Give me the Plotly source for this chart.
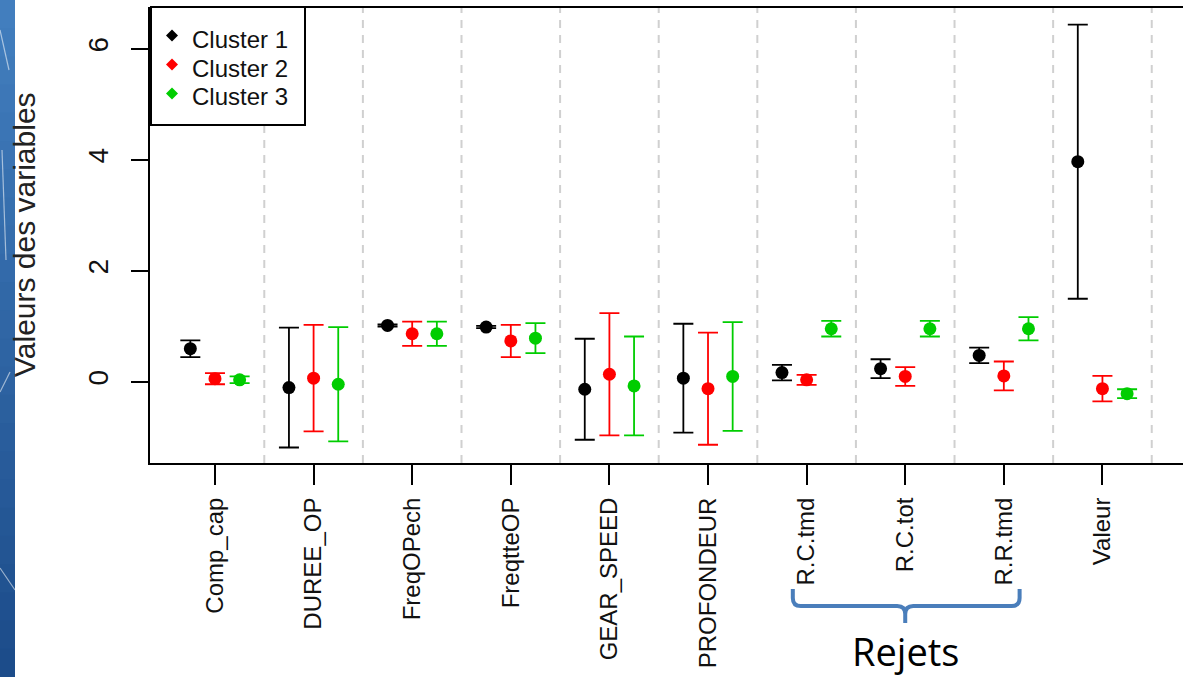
import plotly.graph_objects as go

# ---- data -------------------------------------------------------------
variables = ["Comp_cap", "DUREE_OP", "FreqOPech", "FreqtteOP", "GEAR_SPEED",
             "PROFONDEUR", "R.C.tmd", "R.C.tot", "R.R.tmd", "Valeur"]

cluster_names = ["Cluster 1", "Cluster 2", "Cluster 3"]
cluster_colors = ["#000000", "#FF0000", "#00CD00"]

# cluster means and half-widths of the error bars, one value per variable
mean_c1 = [0.60, -0.10, 1.02, 0.99, -0.13, 0.07, 0.17, 0.24, 0.48, 3.97]
sd_c1 = [0.15, 1.08, 0.02, 0.02, 0.91, 0.98, 0.14, 0.17, 0.14, 2.47]
mean_c2 = [0.06, 0.07, 0.87, 0.74, 0.14, -0.12, 0.04, 0.10, 0.11, -0.12]
sd_c2 = [0.10, 0.96, 0.22, 0.29, 1.10, 1.01, 0.09, 0.17, 0.26, 0.23]
mean_c3 = [0.04, -0.04, 0.87, 0.79, -0.07, 0.10, 0.96, 0.96, 0.96, -0.21]
sd_c3 = [0.06, 1.03, 0.22, 0.27, 0.89, 0.98, 0.14, 0.14, 0.21, 0.08]

y_ticks = [0, 2, 4, 6]
group_label = "Rejets"
group_members = ["R.C.tmd", "R.C.tot", "R.R.tmd"]

means = [mean_c1, mean_c2, mean_c3]
sds = [sd_c1, sd_c2, sd_c3]
offsets = [-0.25, 0.0, 0.25]

# ---- geometry ---------------------------------------------------------
W, H = 1183, 677
ML, MR, MT, MB = 150, 0, 7, 214
PW, PH = W - ML - MR, H - MT - MB
X_RANGE = [-0.659, 9.817]
Y_RANGE = [-1.459, 6.757]
FONT = "Liberation Sans, Arial, sans-serif"


def xpix(px):
    return (px - ML) / PW


def ypix(py):
    return (H - MB - py) / PH


def x_to_paper(v):
    return (v - X_RANGE[0]) / (X_RANGE[1] - X_RANGE[0])


fig = go.Figure()

for c in range(3):
    fig.add_trace(go.Scatter(
        x=[i + offsets[c] for i in range(len(variables))],
        y=means[c],
        mode="markers",
        marker=dict(symbol="circle", size=13, color=cluster_colors[c]),
        error_y=dict(type="data", array=sds[c], symmetric=True,
                     color=cluster_colors[c], thickness=1.8, width=10),
        showlegend=False,
        hoverinfo="skip",
    ))

shapes = []
annotations = []

# slide background strip on the far left, light to dark blue
n_slices = 24
top_rgb, bot_rgb = (66, 126, 190), (28, 76, 138)
for k in range(n_slices):
    t = k / (n_slices - 1)
    col = tuple(round(top_rgb[j] + (bot_rgb[j] - top_rgb[j]) * t) for j in range(3))
    y0p = k * H / n_slices
    y1p = (k + 1) * H / n_slices + 1
    shapes.append(dict(type="rect", xref="paper", yref="paper",
                       x0=xpix(0), x1=xpix(15), y0=ypix(y1p), y1=ypix(y0p),
                       fillcolor="rgb(%d,%d,%d)" % col, line=dict(width=0),
                       layer="below"))
for (a, b) in [((0, 30), (9, 70)), ((0, 392), (10, 372)), ((0, 568), (15, 590)),
               ((2, 150), (6, 260))]:
    shapes.append(dict(type="line", xref="paper", yref="paper",
                       x0=xpix(a[0]), y0=ypix(a[1]), x1=xpix(b[0]), y1=ypix(b[1]),
                       line=dict(color="rgba(255,255,255,0.55)", width=1.2)))

# dashed separators between variables
for i in range(len(variables)):
    shapes.append(dict(type="line", xref="x", yref="paper",
                       x0=i + 0.5, x1=i + 0.5, y0=0, y1=1,
                       line=dict(color="#D0D0D0", width=2, dash="8px,7px"),
                       layer="below"))

# top border of the box
shapes.append(dict(type="line", xref="paper", yref="paper", x0=0, x1=1, y0=1, y1=1,
                   line=dict(color="black", width=2)))

# legend: frame, diamond keys and labels
shapes.append(dict(type="rect", xref="paper", yref="paper",
                   x0=xpix(151), x1=xpix(305), y0=ypix(125), y1=1,
                   fillcolor="white", line=dict(color="black", width=2),
                   layer="above"))
key_x, text_x, first_row, row_gap, half = 172, 190, 39, 29, 6
for c, name in enumerate(cluster_names):
    cy = first_row + row_gap * c
    ky = cy - 3.5
    shapes.append(dict(
        type="path", xref="paper", yref="paper", layer="above",
        path=(f"M {xpix(key_x - half)},{ypix(ky)} L {xpix(key_x)},{ypix(ky - half)} "
              f"L {xpix(key_x + half)},{ypix(ky)} L {xpix(key_x)},{ypix(ky + half)} Z"),
        fillcolor=cluster_colors[c], line=dict(width=0)))
    annotations.append(dict(
        text=name, xref="paper", yref="paper", x=xpix(text_x), y=ypix(cy),
        xanchor="left", yanchor="middle", showarrow=False,
        font=dict(family=FONT, size=24, color="#111111")))

# brace under the grouped variables
gi = [variables.index(v) for v in group_members]
xl = x_to_paper(gi[0] - 0.14)
xr = x_to_paper(gi[-1] + 0.16)
xc = x_to_paper(gi[1])
d = 8 / PW
yt, ym, yk, yb = ypix(589), ypix(606), ypix(614), ypix(623)
ya = ypix(598)
path = (f"M {xl},{yt} L {xl},{ya} Q {xl},{ym} {xl + d},{ym} L {xc - d},{ym} "
        f"Q {xc},{ym} {xc},{yk} L {xc},{yb} M {xc},{yk} Q {xc},{ym} {xc + d},{ym} "
        f"L {xr - d},{ym} Q {xr},{ym} {xr},{ya} L {xr},{yt}")
shapes.append(dict(type="path", xref="paper", yref="paper", path=path,
                   line=dict(color="#4A7EBB", width=4)))

annotations += [
    dict(text="Valeurs des variables", textangle=-90, xref="paper", yref="paper",
         x=xpix(24), y=0.5, xanchor="center", yanchor="middle", showarrow=False,
         font=dict(family=FONT, size=30, color="#222222")),
    dict(text=group_label, xref="paper", yref="paper",
         x=xc, y=ypix(651), xanchor="center", yanchor="middle", showarrow=False,
         font=dict(family="Open Sans, sans-serif", size=38, color="black")),
]

fig.update_layout(
    width=W, height=H,
    margin=dict(l=ML, r=MR, t=MT, b=MB, pad=0),
    paper_bgcolor="white", plot_bgcolor="white",
    shapes=shapes, annotations=annotations,
    showlegend=False,
    xaxis=dict(range=X_RANGE, tickmode="array", tickvals=list(range(len(variables))),
               ticktext=variables, tickangle=-90, ticks="outside", ticklen=20,
               tickwidth=2, tickcolor="black", showline=True, linecolor="black",
               linewidth=2, showgrid=False, zeroline=False, ticklabelstandoff=3,
               tickfont=dict(family=FONT, size=24, color="#111111")),
    yaxis=dict(range=Y_RANGE, tickmode="array", tickvals=y_ticks, tickangle=-90,
               ticks="outside", ticklen=17, tickwidth=2, tickcolor="black",
               showline=True, linecolor="black", linewidth=2, showgrid=False,
               zeroline=False, ticklabelstandoff=12,
               tickfont=dict(family=FONT, size=28, color="#111111")),
)

fig.write_html("out.html")
